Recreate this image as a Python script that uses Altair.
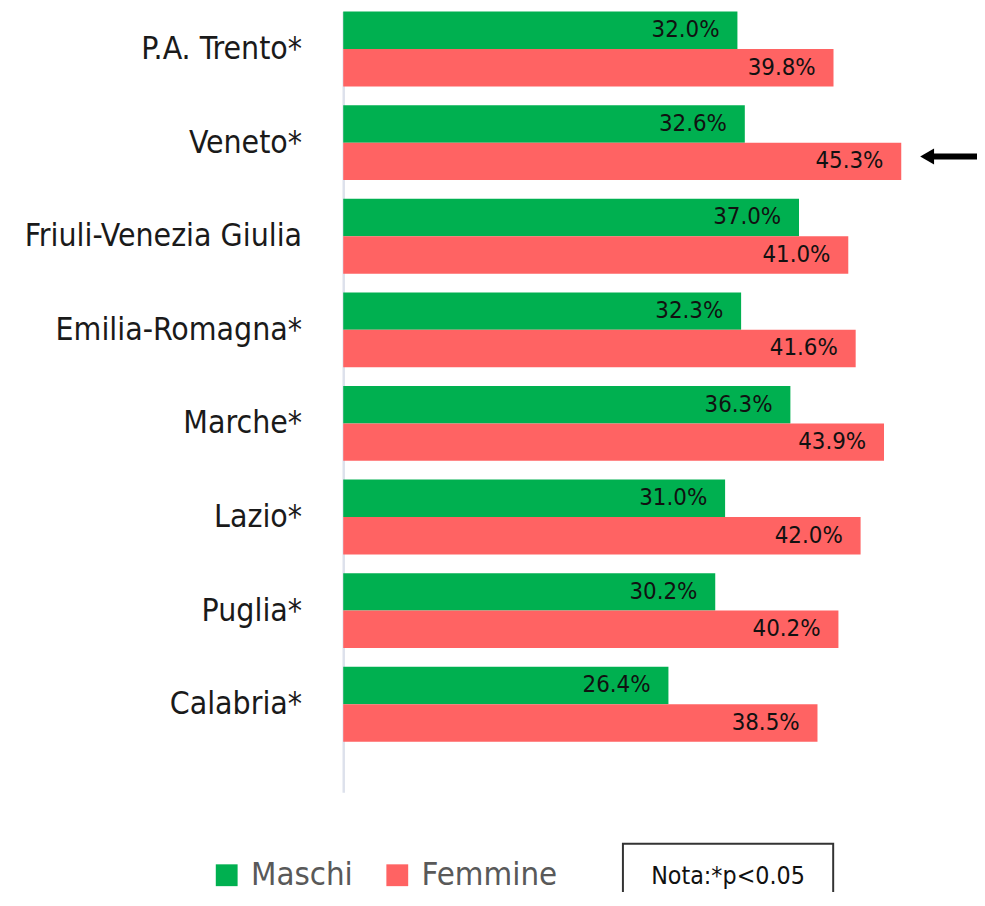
import altair as alt
import pandas as pd

regions = ["P.A. Trento*", "Veneto*", "Friuli-Venezia Giulia", "Emilia-Romagna*",
           "Marche*", "Lazio*", "Puglia*", "Calabria*"]
maschi = [32.0, 32.6, 37.0, 32.3, 36.3, 31.0, 30.2, 26.4]
femmine = [39.8, 45.3, 41.0, 41.6, 43.9, 42.0, 40.2, 38.5]
sessi = ["Maschi", "Femmine"]
colori = ["#00B050", "#FF6363"]
nota = "Nota:*p<0.05"

rows = []
for r, m, f in zip(regions, maschi, femmine):
    rows.append({"regione": r, "sesso": "Maschi", "valore": m})
    rows.append({"regione": r, "sesso": "Femmine", "valore": f})
df = pd.DataFrame(rows)
df["etichetta"] = df["valore"].map(lambda v: f"{v:.1f}%")

FONT = "DejaVu Sans Condensed"
W, H = 621, 787

x_scale = alt.Scale(domain=[0, 50], nice=False, zero=True)
y_enc = alt.Y("regione:N", sort=regions, title=None,
              scale=alt.Scale(paddingInner=0.2, paddingOuter=0.27, align=0),
              axis=alt.Axis(ticks=False, labelFontSize=32, labelColor="#1a1a1a",
                            labelPadding=42, labelFont=FONT, domainColor="#DDE1EC",
                            domainWidth=2.5, labelLimit=400))
yoff_enc = alt.YOffset("sesso:N", sort=sessi,
                       scale=alt.Scale(paddingInner=0, paddingOuter=0))

base = alt.Chart(df)

bars = base.mark_bar(cornerRadius=0).encode(
    x=alt.X("valore:Q", scale=x_scale, axis=None),
    y=y_enc,
    yOffset=yoff_enc,
    color=alt.Color("sesso:N", sort=sessi,
                    scale=alt.Scale(domain=sessi, range=colori),
                    legend=alt.Legend(title=None, orient="none", direction="horizontal",
                                      legendX=-134, legendY=854,
                                      symbolType="square", symbolSize=484,
                                      symbolStrokeWidth=0, symbolOpacity=1,
                                      labelFontSize=33, labelColor="#595959",
                                      labelFont=FONT, labelOffset=8,
                                      columnPadding=28, padding=0)),
)

labels = base.mark_text(align="right", baseline="middle", dx=-18,
                        fontSize=24, font=FONT, color="#111111").encode(
    x=alt.X("valore:Q", scale=x_scale),
    y=alt.Y("regione:N", sort=regions),
    yOffset=alt.YOffset("sesso:N", sort=sessi),
    text="etichetta:N",
)

one = alt.Chart(pd.DataFrame({"nota": [nota]}))

arrow_shaft = one.mark_rule(color="black", strokeWidth=6).encode(
    x=alt.datum(47.7), x2=alt.datum(52.8), y=alt.value(146))
arrow_head = one.mark_point(shape="triangle-left", filled=True, color="black",
                            size=260, opacity=1).encode(
    x=alt.datum(47.4), y=alt.value(146))

nota_box = one.mark_rect(fill="white", stroke="#333333", strokeWidth=2).encode(
    x=alt.value(282), x2=alt.value(494), y=alt.value(839), y2=alt.value(910))
nota_text = one.mark_text(fontSize=25, font=FONT, color="#111111",
                          baseline="middle", align="center").encode(
    x=alt.value(388), y=alt.value(872), text="nota:N")

chart = alt.layer(bars, labels, arrow_shaft, arrow_head, nota_box, nota_text).properties(
    width=W, height=H,
    autosize=alt.AutoSizeParams(type="none"),
    padding={"left": 338, "top": 0, "right": 18, "bottom": 97},
).configure(font=FONT).configure_view(stroke=None)

chart.save("out.html", embed_options={"renderer": "svg", "actions": False})
